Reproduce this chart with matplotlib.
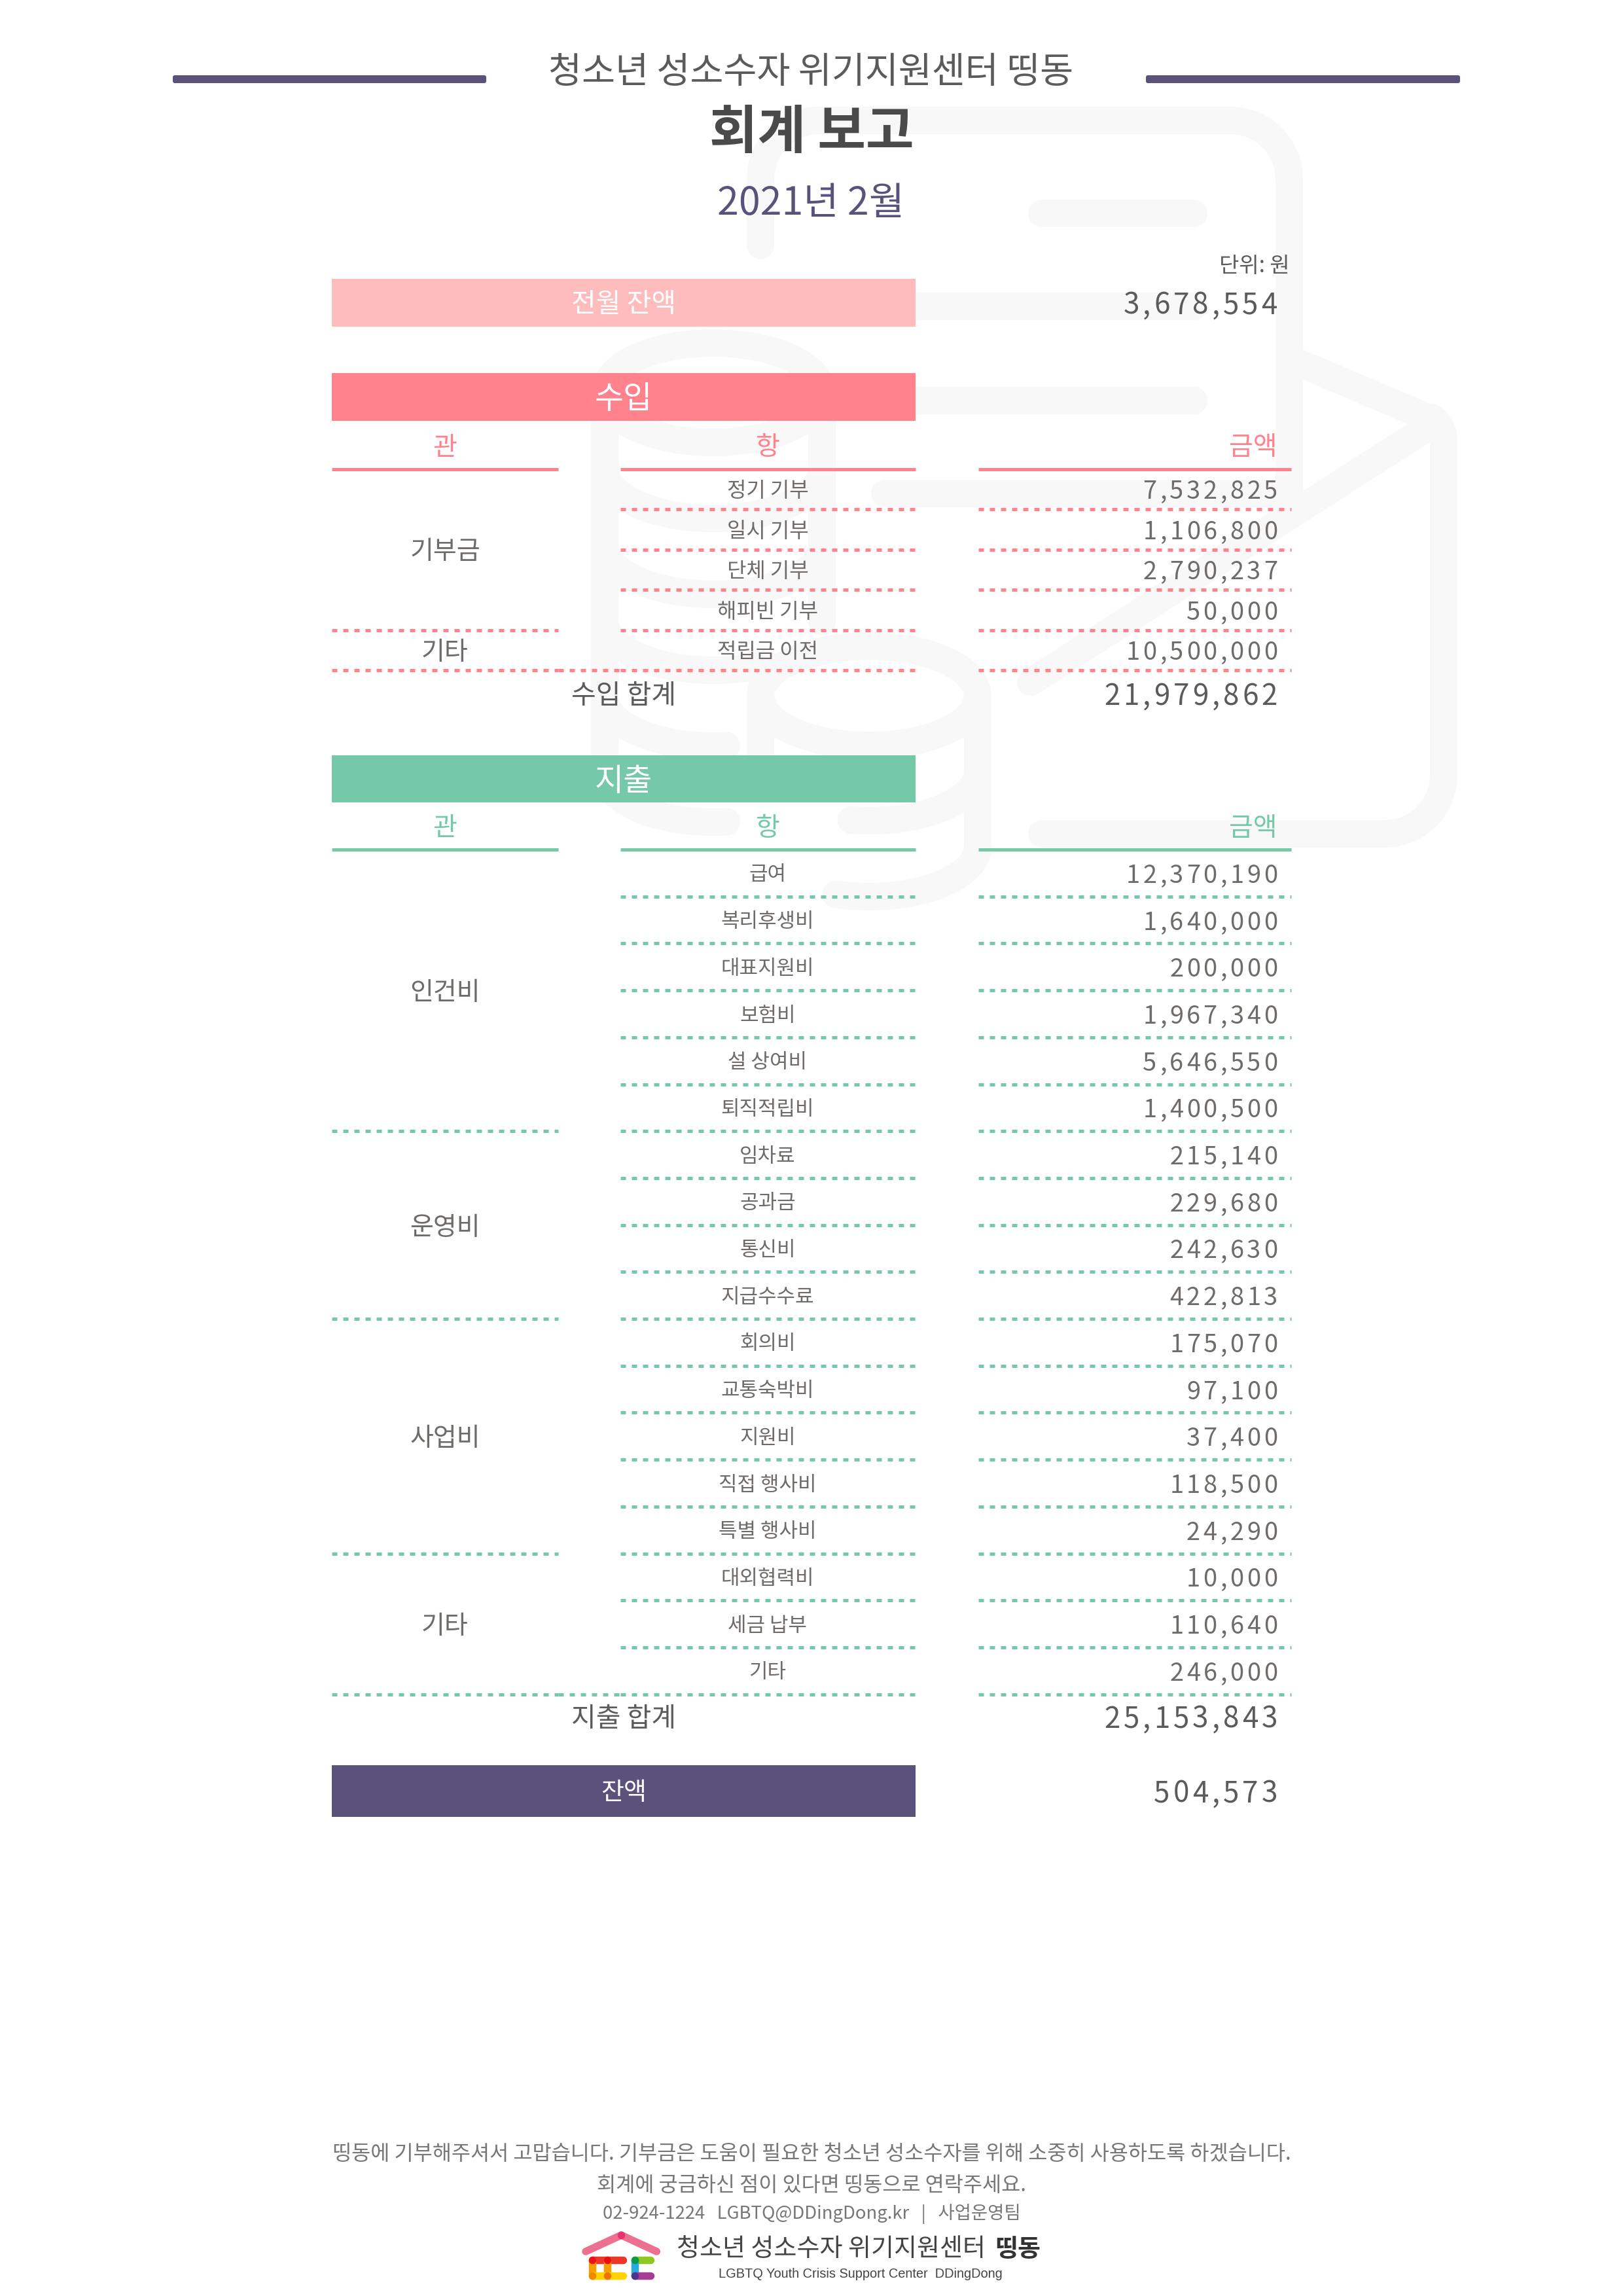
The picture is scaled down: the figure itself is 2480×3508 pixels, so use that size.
"""
회계 보고 (2021년 2월) 페이지 재현
"""

import matplotlib
matplotlib.use('Agg')
import matplotlib.pyplot as plt
from matplotlib.patches import Arc, FancyBboxPatch, Rectangle

plt.rcParams['font.family'] = ['Noto Sans CJK KR', 'DejaVu Sans']

# ============================================================
# 데이터
# ============================================================

org_name = '청소년 성소수자 위기지원센터 띵동'
report_title = '회계 보고'
report_month = '2021년 2월'
unit_label = '단위: 원'

column_names = ['관', '항', '금액']

prev_label = '전월 잔액'
prev_balance = '3,678,554'

income_label = '수입'
income_items = ['정기 기부', '일시 기부', '단체 기부', '해피빈 기부', '적립금 이전']
income_values = ['7,532,825', '1,106,800', '2,790,237', '50,000', '10,500,000']
income_groups = ['기부금', '기타']
income_group_ends = [4, 5]
income_total_label = '수입 합계'
income_total = '21,979,862'

expense_label = '지출'
expense_items = ['급여', '복리후생비', '대표지원비', '보험비', '설 상여비', '퇴직적립비',
                 '임차료', '공과금', '통신비', '지급수수료',
                 '회의비', '교통숙박비', '지원비', '직접 행사비', '특별 행사비',
                 '대외협력비', '세금 납부', '기타']
expense_values = ['12,370,190', '1,640,000', '200,000', '1,967,340', '5,646,550', '1,400,500',
                  '215,140', '229,680', '242,630', '422,813',
                  '175,070', '97,100', '37,400', '118,500', '24,290',
                  '10,000', '110,640', '246,000']
expense_groups = ['인건비', '운영비', '사업비', '기타']
expense_group_ends = [6, 10, 15, 18]
expense_total_label = '지출 합계'
expense_total = '25,153,843'

balance_label = '잔액'
balance_value = '504,573'

footer_lines = ['띵동에 기부해주셔서 고맙습니다. 기부금은 도움이 필요한 청소년 성소수자를 위해 소중히 사용하도록 하겠습니다.',
                '회계에 궁금하신 점이 있다면 띵동으로 연락주세요.',
                '02-924-1224   LGBTQ@DDingDong.kr   |   사업운영팀']
logo_name = '청소년 성소수자 위기지원센터'
logo_name_bold = '띵동'
logo_english = 'LGBTQ Youth Crisis Support Center  DDingDong'

# ============================================================
# 스타일
# ============================================================

DPI = 100
PINK = '#ff828c'
LIGHT_PINK = '#ffbcbc'
GREEN = '#75c9a8'
PURPLE = '#5b527c'
WATERMARK = '#f8f8f8'
DARK = '#4a4a4a'
MID = '#5c5a5a'
SOFT = '#6f6b69'

X_LEFT, X_COL1_END = 507, 853
X_COL2, X_BAR_END = 948, 1399
X_COL3, X_RIGHT = 1495, 1973
X_COL1_MID = 680
X_COL2_MID = 1173
X_BAR_MID = 953
X_VALUE_END = 1952


def px(v):
    # 픽셀 -> 포인트
    return v * 72 / DPI


fig = plt.figure(figsize=(24.8, 35.08), dpi=DPI)
ax = fig.add_axes([0, 0, 1, 1])
ax.set_xlim(0, 2480)
ax.set_ylim(3508, 0)
ax.axis('off')


def label(x, y, s, size, color=SOFT, ha='center', **kw):
    # va='center' 가 글자를 약간 위로 올리므로 크기에 비례해 보정
    ax.text(x, y + size * 0.1, s, fontsize=px(size), color=color, ha=ha, va='center', zorder=5, **kw)


def value(y, s, size=38, color=SOFT, gap=4.6, weight='normal'):
    # 자간이 넓은 숫자: 오른쪽에서부터 한 글자씩 배치
    x = X_VALUE_END
    for ch in reversed(s):
        adv = (0.28 if ch == ',' else 0.555) * size
        ax.text(x - adv / 2, y, ch, fontsize=px(size), color=color, ha='center',
                va='center_baseline', zorder=5, fontweight=weight)
        x -= adv + gap


def dotted(x0, x1, y, color):
    ax.plot([x0, x1], [y, y], color=color, lw=px(5), zorder=4,
            linestyle=(0, (8 / 5, 9 / 5)), dash_capstyle='butt')


def solid(x0, x1, y, color):
    ax.plot([x0, x1], [y, y], color=color, lw=px(5), zorder=4, solid_capstyle='butt')


def band(y0, y1, color, text, size):
    ax.add_patch(Rectangle((X_LEFT, y0), X_BAR_END - X_LEFT, y1 - y0, color=color, lw=0, zorder=3))
    label(X_BAR_MID, (y0 + y1) / 2 - 1, text, size, color='white')


def section(head_y, row_h, color, items, values, groups, ends, text_size):
    # 머리글
    solid(X_LEFT, X_COL1_END, head_y, color)
    solid(X_COL2, X_BAR_END, head_y, color)
    solid(X_COL3, X_RIGHT, head_y, color)
    label(X_COL1_MID, head_y - 36, column_names[0], 40, color=color)
    label(X_COL2_MID, head_y - 36, column_names[1], 40, color=color)
    label(X_VALUE_END, head_y - 36, column_names[2], 40, color=color, ha='right')

    for i, (item, val) in enumerate(zip(items, values)):
        y = head_y + row_h * (i + 0.5)
        label(X_COL2_MID, y, item, text_size)
        value(y, val)
        line_y = head_y + row_h * (i + 1)
        dotted(X_COL2, X_BAR_END, line_y, color)
        dotted(X_COL3, X_RIGHT, line_y, color)

    start = 0
    for name, end in zip(groups, ends):
        label(X_COL1_MID, head_y + row_h * (start + end) / 2, name, 39)
        dotted(X_LEFT, X_COL1_END, head_y + row_h * end, color)
        start = end
    # 합계 위 구분선은 관/항 사이도 이어짐
    dotted(X_COL1_END, X_COL2, head_y + row_h * len(items), color)


# ============================================================
# 배경 워터마크
# ============================================================

def wm_line(xs, ys, w=42):
    ax.plot(xs, ys, color=WATERMARK, lw=px(w), solid_capstyle='round',
            solid_joinstyle='round', zorder=1)


def wm_arc(cx, cy, t0, t1, rx=166, ry=76, w=42):
    ax.add_patch(Arc((cx, cy), rx * 2, ry * 2, theta1=t0, theta2=t1, color=WATERMARK,
                     lw=px(w), zorder=1, capstyle='round'))


# 문서 윤곽
wm_line([1162, 1162], [375, 274])
wm_arc(1252, 274, 180, 270, rx=90, ry=90)
wm_line([1252, 1880], [184, 184])
wm_arc(1880, 274, 270, 360, rx=90, ry=90)
wm_line([1970, 1970], [274, 785])
# 봉투
wm_line([1970, 2186], [548, 640])
wm_arc(2166, 672, 300, 360, rx=40, ry=40)
wm_line([2206, 2206], [672, 1184])
wm_arc(2116, 1184, 0, 90, rx=90, ry=90)
wm_line([2116, 1592], [1274, 1274])
wm_line([2186, 1575], [650, 1042])
# 문서 안쪽 줄
wm_line([1592, 1824], [326, 326])
wm_line([1260, 1824], [468, 468])
wm_line([1260, 1824], [612, 612])
wm_line([1352, 1970], [754, 754])
# 위쪽 동전 더미
wm_arc(1090, 600, 0, 360)
wm_line([924, 924], [600, 1180])
wm_line([1256, 1256], [600, 950])
for cy in [716, 832]:
    wm_arc(1090, cy, 0, 180)
wm_arc(1090, 948, 40, 180)
for cy in [1064, 1180]:
    wm_arc(1090, cy, 75, 180)
# 아래쪽 동전 더미
wm_arc(1328, 1063, 0, 360)
wm_line([1494, 1494], [1063, 1294])
wm_line([1162, 1162], [1063, 1180])
wm_arc(1328, 1178, 0, 110)
wm_arc(1328, 1294, 0, 125)

# ============================================================
# 제목
# ============================================================

for x0, x1 in [(264, 743), (1751, 2231)]:
    ax.add_patch(FancyBboxPatch((x0 + 3, 118), x1 - x0 - 6, 6, boxstyle='round,pad=3,rounding_size=3',
                                fc=PURPLE, ec='none', zorder=3))
label(1239, 106, org_name, 55.5, color=MID)
label(1240, 195, report_title, 80, color=DARK, fontweight='bold')
label(1239, 306, report_month, 59, color=PURPLE)
label(X_RIGHT - 2, 403, unit_label, 33, color=MID, ha='right')

# ============================================================
# 표
# ============================================================

band(426, 499, LIGHT_PINK, prev_label, 41)
value(462, prev_balance, size=44, color=MID, gap=5.0, weight='medium')

band(570, 643, PINK, income_label, 48)
section(716.5, 61.5, PINK, income_items, income_values, income_groups, income_group_ends, 32)
label(X_BAR_MID, 1059, income_total_label, 41, color=MID)
value(1059, income_total, size=44, color=MID, gap=5.0, weight='medium')

band(1154, 1226, GREEN, expense_label, 48)
section(1298, 71.7, GREEN, expense_items, expense_values, expense_groups, expense_group_ends, 31)
label(X_BAR_MID, 2622, expense_total_label, 41, color=MID)
value(2622, expense_total, size=44, color=MID, gap=5.0, weight='medium')

band(2697, 2776, PURPLE, balance_label, 38)
value(2736, balance_value, size=44, color=MID, gap=5.0, weight='medium')

# ============================================================
# 하단 안내와 로고
# ============================================================

label(1240, 3288, footer_lines[0], 31.7, color='#777777')
label(1240, 3336, footer_lines[1], 31.7, color='#777777')
label(1240, 3380, footer_lines[2], 27.5, color='#777777')


def logo_stroke(xs, ys, color, w=11.5):
    ax.plot(xs, ys, color=color, lw=px(w), solid_capstyle='round', zorder=6)


def logo_dot(x, y, color, w=11.5):
    ax.plot([x], [y], marker='o', ms=px(w), color=color, mew=0, zorder=7)


logo_stroke([895, 949.3], [3440, 3415], '#ee7090')
logo_stroke([949.3, 1003.3], [3415, 3440], '#ee7090')
logo_dot(949.3, 3415, '#e8336e')
logo_stroke([904.5, 951.5], [3452.5, 3452.5], '#ee3528')
logo_stroke([904.5, 904.5], [3452.5, 3476.5], '#f5a000')
logo_stroke([927.7, 927.7], [3452.5, 3476.5], '#f5a000')
logo_stroke([904.5, 951.5], [3476.5, 3476.5], '#ffd200')
logo_dot(904.5, 3452.5, '#e8141c')
logo_dot(927.7, 3452.5, '#e80f14')
logo_dot(904.5, 3476.5, '#f08800')
logo_dot(927.7, 3476.5, '#f07000')
logo_stroke([970.3, 994], [3452.5, 3452.5], '#90c820')
logo_stroke([970.3, 970.3], [3452.5, 3476.5], '#29abe2')
logo_stroke([970.3, 994], [3476.5, 3476.5], '#a83c90')
logo_dot(970.3, 3452.5, '#0a9a48')
logo_dot(970.3, 3476.5, '#4a3490')

label(1034, 3433, logo_name, 38, color='#444444', ha='left')
label(1590, 3433, logo_name_bold, 38, color='#333333', ha='right', fontweight='bold')
label(1315, 3472, logo_english, 20, color='#444444', family=['Liberation Sans', 'DejaVu Sans'])

fig.savefig('out.png', dpi=DPI, facecolor='white')
